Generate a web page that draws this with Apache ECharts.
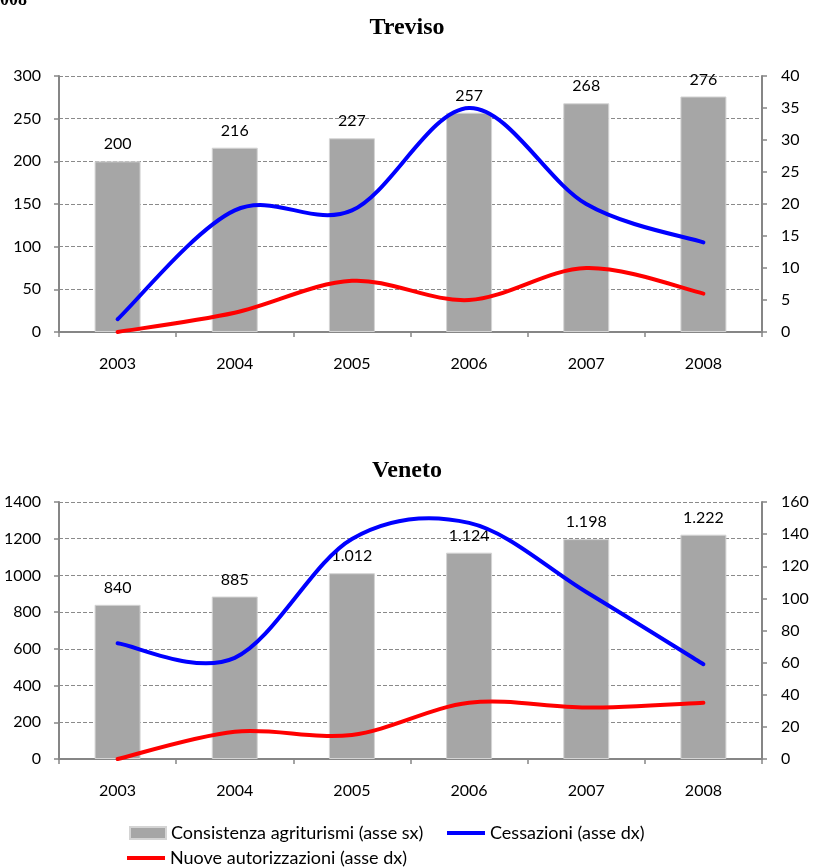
<!DOCTYPE html>
<html><head><meta charset="utf-8">
<script src="https://cdn.jsdelivr.net/npm/echarts@6/dist/echarts.min.js"></script>
<style>html,body{margin:0;padding:0;background:#fff}#c{width:814px;height:868px}</style>
</head><body><div id="c"></div>
<script>
const years = ['2003', '2004', '2005', '2006', '2007', '2008'];
const trevisoConsistenza = [200, 216, 227, 257, 268, 276];
const trevisoCessazioni = [2, 19, 19, 35, 20, 14];
const trevisoNuove = [0, 3, 8, 5, 10, 6];
const venetoConsistenza = [840, 885, 1012, 1124, 1198, 1222];
const venetoCessazioni = [72, 63, 137, 147, 104, 59];
const venetoNuove = [0, 17, 15, 35, 32, 35];
const chartTitles = ['Treviso', 'Veneto'];
const seriesNames = ['Consistenza agriturismi (asse sx)', 'Cessazioni (asse dx)', 'Nuove autorizzazioni (asse dx)'];

const FONT = 'Lato';
const FS = 16;
const AXIS_COLOR = '#868686';
const fmtDots = v => String(v).replace(/\B(?=(\d{3})+(?!\d))/g, '.');

function xAxis(gridIndex) {
  return {
    type: 'category', gridIndex, data: years,
    axisLine: { lineStyle: { color: AXIS_COLOR, width: 2 } },
    axisTick: { show: true, length: 5, inside: false, lineStyle: { color: AXIS_COLOR, width: 1.5 } },
    axisLabel: { color: '#000', fontFamily: FONT, fontSize: FS, margin: 24 },
    splitLine: { show: false }
  };
}
function yAxis(gridIndex, pos, max, interval, grid) {
  return {
    type: 'value', gridIndex, position: pos, min: 0, max, interval,
    axisLine: { show: true, lineStyle: { color: AXIS_COLOR, width: 2 } },
    axisTick: { show: true, length: 5, lineStyle: { color: AXIS_COLOR, width: 1.5 } },
    axisLabel: { color: '#000', fontFamily: FONT, fontSize: FS, margin: pos === 'left' ? 18 : 19, formatter: v => String(v) },
    splitLine: { show: grid, lineStyle: { color: '#8a8a8a', type: [4, 2], width: 1 } }
  };
}
function barSeries(data, xi, yi) {
  return {
    name: seriesNames[0], type: 'bar', xAxisIndex: xi, yAxisIndex: yi, data,
    barWidth: 46, itemStyle: { color: '#A6A6A6', borderColor: '#D4D4D4', borderWidth: 1 },
    label: { show: true, position: 'top', distance: 9, color: '#000', fontFamily: FONT, fontSize: FS, formatter: p => fmtDots(p.value) },
    z: 1
  };
}
// Smoothed line (Excel-like Catmull-Rom) drawn through the data points via the axes' own coord conversion
function smoothLineSeries(nameIdx, values, xi, yi, color) {
  return {
    name: seriesNames[nameIdx], type: 'custom', xAxisIndex: xi, yAxisIndex: yi,
    data: values.map((v, i) => [i, v]),
    encode: { x: 0, y: 1 },
    itemStyle: { color },
    z: 3,
    renderItem: function (params, api) {
      if (params.dataIndex !== 0) return null;
      const p = values.map((v, i) => api.coord([i, v]));
      let d = 'M' + p[0][0] + ' ' + p[0][1];
      for (let i = 0; i < p.length - 1; i++) {
        const p0 = p[Math.max(i - 1, 0)], p1 = p[i], p2 = p[i + 1], p3 = p[Math.min(i + 2, p.length - 1)];
        const c1x = p1[0] + (p2[0] - p0[0]) / 6, c1y = p1[1] + (p2[1] - p0[1]) / 6;
        const c2x = p2[0] - (p3[0] - p1[0]) / 6, c2y = p2[1] - (p3[1] - p1[1]) / 6;
        d += ' C' + c1x + ' ' + c1y + ' ' + c2x + ' ' + c2y + ' ' + p2[0] + ' ' + p2[1];
      }
      return {
        type: 'path', shape: { pathData: d },
        style: { stroke: color, lineWidth: 4, fill: null, lineCap: 'round', lineJoin: 'round' },
        silent: true
      };
    }
  };
}
const legendText = { color: '#000', fontFamily: FONT, fontSize: 18 };
const chart = echarts.init(document.getElementById('c'), null, { renderer: 'canvas' });
chart.setOption({
  animation: false,
  backgroundColor: '#fff',
  title: [
    { text: chartTitles[0], left: 'center', top: 11, textStyle: { fontFamily: 'Liberation Serif', fontWeight: 'bold', fontSize: 24, color: '#000' } },
    { text: chartTitles[1], left: 'center', top: 454, textStyle: { fontFamily: 'Liberation Serif', fontWeight: 'bold', fontSize: 24, color: '#000' } }
  ],
  grid: [
    { left: 59, right: 52, top: 76, height: 256 },
    { left: 59, right: 52, top: 502, height: 257 }
  ],
  xAxis: [xAxis(0), xAxis(1)],
  yAxis: [
    yAxis(0, 'left', 300, 50, true), yAxis(0, 'right', 40, 5, false),
    yAxis(1, 'left', 1400, 200, true), yAxis(1, 'right', 160, 20, false)
  ],
  legend: [
    { data: [{ name: seriesNames[0], icon: 'rect' }], left: 129, top: 824, padding: 0, itemWidth: 36, itemHeight: 12, itemGap: 0, textStyle: legendText, selectedMode: false },
    { data: [{ name: seriesNames[1], icon: 'rect' }], left: 447, top: 824, padding: 0, itemWidth: 38, itemHeight: 4, itemGap: 0, textStyle: legendText, selectedMode: false },
    { data: [{ name: seriesNames[2], icon: 'rect' }], left: 127, top: 849, padding: 0, itemWidth: 38, itemHeight: 4, itemGap: 0, textStyle: legendText, selectedMode: false }
  ],
  graphic: [
    { type: 'text', left: 0, top: -9, style: { text: '008', fontFamily: 'Liberation Serif', fontWeight: 'bold', fontSize: 18, fill: '#000' } }
  ],
  series: [
    barSeries(trevisoConsistenza, 0, 0),
    smoothLineSeries(1, trevisoCessazioni, 0, 1, '#0000FF'),
    smoothLineSeries(2, trevisoNuove, 0, 1, '#FF0000'),
    barSeries(venetoConsistenza, 1, 2),
    smoothLineSeries(1, venetoCessazioni, 1, 3, '#0000FF'),
    smoothLineSeries(2, venetoNuove, 1, 3, '#FF0000')
  ]
});
</script></body></html>
